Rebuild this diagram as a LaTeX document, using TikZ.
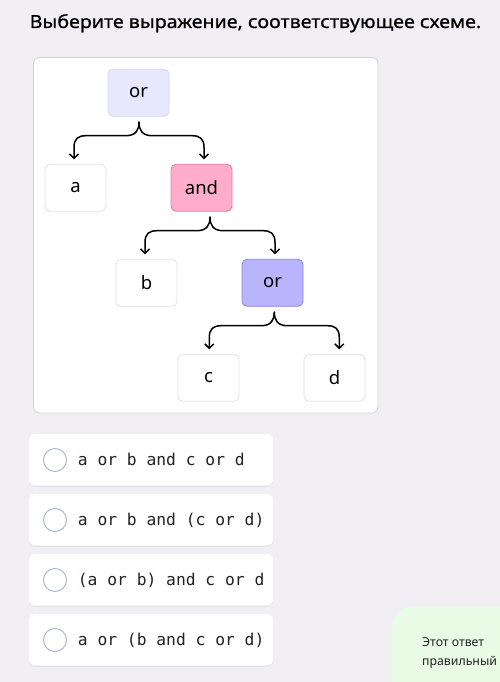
\documentclass[tikz,border=0pt]{standalone}
\usepackage{fontspec}
\usepackage{graphicx}
\setmainfont{Noto Sans}
\newfontfamily\titlefont{Noto Sans}[FakeBold=0.7]
\newfontfamily\monof{DejaVu Sans Mono}
\usetikzlibrary{arrows.meta,calc}
\definecolor{bgc}{HTML}{F1EFF3}
\definecolor{panelborder}{HTML}{D3D2D7}
\definecolor{wborder}{HTML}{E2E2E6}
\definecolor{orfill}{HTML}{E8E8FC}
\definecolor{orborder}{HTML}{D6D6F2}
\definecolor{andfill}{HTML}{FFADCB}
\definecolor{andborder}{HTML}{E67BA3}
\definecolor{orbfill}{HTML}{B9B4FC}
\definecolor{orbborder}{HTML}{8A83E6}
\definecolor{radioc}{HTML}{AAB9D6}
\definecolor{shadowc}{HTML}{E2E1E6}
\definecolor{greenc}{HTML}{E9FBE4}
\definecolor{txtc}{HTML}{222222}
\newcommand\treebrace[4]{%
  \draw[conn] let \p1=($(#1.south)+(#2,0)$), \p2=(#3.north) in
    ({\x1},{\y1-5.5pt}) .. controls ({\x1},{\y1-13pt}) and ({\x1-3pt},{\y1-19pt}) .. ({\x1-13pt},{\y1-19pt})
    -- ({\x1-53pt},{\y1-19pt}) .. controls ({\x1-61pt},{\y1-19pt}) and ({\x1-65pt},{\y1-22pt}) .. ({\x1-65pt},{\y1-31pt})
    -- ({\x1-65pt},{\y2+4.5pt});
  \draw[conn] let \p1=($(#1.south)+(#2,0)$), \p2=(#4.north) in
    ({\x1},{\y1-5.5pt}) .. controls ({\x1},{\y1-13pt}) and ({\x1+3pt},{\y1-19pt}) .. ({\x1+13pt},{\y1-19pt})
    -- ({\x1+53pt},{\y1-19pt}) .. controls ({\x1+61pt},{\y1-19pt}) and ({\x1+65pt},{\y1-22pt}) .. ({\x1+65pt},{\y1-31pt})
    -- ({\x1+65pt},{\y2+4.5pt});
}
\begin{document}
\begin{tikzpicture}[x=1pt,y=-1pt,
  tnode/.style={draw=wborder,fill=white,line width=0.8pt,rounded corners=5pt,
    minimum width=61pt,minimum height=47pt,inner sep=0pt,font=\fontsize{18.5}{20}\selectfont,text=black},
  conn/.style={line width=1.5pt,-{Straight Barb[length=4.5pt,width=9pt]},line cap=round,line join=round},
  card/.style={fill=white,rounded corners=6pt},
  cshadow/.style={fill=shadowc,rounded corners=6pt},
  radio/.style={circle,draw=radioc,line width=1pt,fill=white,minimum size=23pt,inner sep=0pt},
  opt/.style={anchor=base west,inner sep=0pt,font=\monof\fontsize{16.3}{18}\selectfont,text=txtc},
  fbtext/.style={anchor=base west,inner sep=0pt,font=\fontsize{12.3}{14}\selectfont,text=txtc}]
\useasboundingbox (0,0) rectangle (500,682);
\clip (0,0) rectangle (500,682);
\fill[bgc] (0,0) rectangle (500,682);
% title
\node[anchor=base west,inner sep=0pt,font=\titlefont\fontsize{18}{20}\selectfont,text=black] (title) at (29.5,28) {\scalebox{1.09}[1]{Выберите выражение, соответствующее схеме.}};
% panel
\draw[panelborder,fill=white,line width=0.8pt,rounded corners=6pt] (33.5,57.5) rectangle (378,413);
% tree nodes
\node[tnode,fill=orfill,draw=orborder] (or1) at (138.5,92.8) {or};
\node[tnode] (a) at (75.5,187.8) {a};
\node[tnode,fill=andfill,draw=andborder] (and) at (201.5,187.8) {and};
\node[tnode] (b) at (146.5,282.8) {b};
\node[tnode,fill=orbfill,draw=orbborder] (or2) at (272.5,282.8) {or};
\node[tnode] (c) at (208.5,377.8) {c};
\node[tnode] (d) at (334.5,377.8) {d};
\treebrace{or1}{0.5}{a}{and}
\treebrace{and}{8.5}{b}{or2}
\treebrace{or2}{1.8}{c}{d}
% answer cards
\foreach \i/\y in {1/434,2/494,3/554,4/614}{
  \fill[cshadow] (29,\y+1.2) rectangle (273,\y+52.8);
  \fill[card] (29,\y) rectangle (273,\y+51.7);
  \node[radio] (r\i) at (55,\y+26) {};
}
\node[opt] (o1) at (77.7,465.5) {a or b and c or d};
\node[opt] (o2) at (77.7,525.5) {a or b and (c or d)};
\node[opt] (o3) at (77.7,585.5) {(a or b) and c or d};
\node[opt] (o4) at (77.7,645.5) {a or (b and c or d)};
% green feedback card
\fill[greenc,rounded corners=22pt] (392,606) rectangle (540,720);
\node[fbtext] (fb1) at (422,646) {Этот ответ};
\node[fbtext] (fb2) at (422,665.5) {правильный};
\end{tikzpicture}
\end{document}
